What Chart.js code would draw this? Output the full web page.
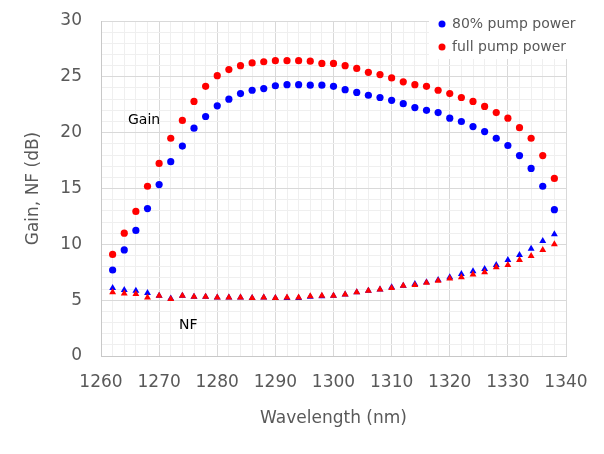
<!DOCTYPE html>
<html>
<head>
<meta charset="utf-8">
<script src="https://cdn.jsdelivr.net/npm/chart.js@4"></script>
<style>
  body { margin: 0; background: #fff; }
</style>
</head>
<body>
<canvas id="gainChart" width="604" height="454"></canvas>
<script>
const wavelengths = [1262, 1264, 1266, 1268, 1270, 1272, 1274, 1276, 1278, 1280,
  1282, 1284, 1286, 1288, 1290, 1292, 1294, 1296, 1298, 1300,
  1302, 1304, 1306, 1308, 1310, 1312, 1314, 1316, 1318, 1320,
  1322, 1324, 1326, 1328, 1330, 1332, 1334, 1336, 1338];

const gain80 = [7.7, 9.5, 11.25, 13.2, 15.35, 17.4, 18.8, 20.4, 21.45, 22.4,
  23.0, 23.5, 23.8, 23.95, 24.2, 24.3, 24.3, 24.25, 24.25, 24.15,
  23.85, 23.6, 23.35, 23.15, 22.9, 22.6, 22.25, 22.0, 21.8, 21.3,
  21.0, 20.55, 20.1, 19.5, 18.85, 17.95, 16.8, 15.2, 13.1];

const gainFull = [9.1, 11.0, 12.95, 15.2, 17.25, 19.5, 21.1, 22.8, 24.15, 25.1,
  25.65, 26.0, 26.25, 26.35, 26.45, 26.45, 26.45, 26.4, 26.2, 26.2,
  26.0, 25.75, 25.4, 25.2, 24.9, 24.55, 24.3, 24.15, 23.8, 23.5,
  23.15, 22.8, 22.35, 21.8, 21.3, 20.45, 19.5, 17.95, 15.9];

const nf80 = [6.1, 5.9, 5.85, 5.65, 5.4, 5.15, 5.4, 5.3, 5.3, 5.25,
  5.25, 5.25, 5.2, 5.25, 5.2, 5.2, 5.2, 5.3, 5.35, 5.4,
  5.5, 5.7, 5.85, 5.95, 6.15, 6.3, 6.45, 6.6, 6.8, 7.05,
  7.35, 7.6, 7.8, 8.15, 8.6, 9.05, 9.6, 10.3, 10.9];

const nfFull = [5.7, 5.6, 5.55, 5.25, 5.4, 5.1, 5.4, 5.3, 5.3, 5.25,
  5.25, 5.25, 5.2, 5.25, 5.2, 5.25, 5.25, 5.35, 5.4, 5.4,
  5.5, 5.7, 5.85, 5.95, 6.1, 6.3, 6.35, 6.55, 6.75, 6.95,
  7.05, 7.3, 7.5, 7.95, 8.15, 8.6, 8.95, 9.5, 10.0];

const seriesNames = ["80% pump power", "full pump power"];
const xTicks = [1260, 1270, 1280, 1290, 1300, 1310, 1320, 1330, 1340];
const yTicks = [0, 5, 10, 15, 20, 25, 30];

const BLUE = "#0000ff";
const RED = "#ff0000";
const GRAY_TEXT = "#595959";
const FONT = "'DejaVu Sans', sans-serif";

function points(ys) {
  return wavelengths.map((x, i) => ({ x: x, y: ys[i] }));
}

// legend box and "Gain"/"NF" labels drawn on top of the plot
const overlayPlugin = {
  id: "overlay",
  afterDraw(chart) {
    const ctx = chart.ctx;
    ctx.save();
    ctx.fillStyle = "#fff";
    ctx.fillRect(429, 8, 175, 51);

    const colors = [BLUE, RED];
    ctx.font = "14px " + FONT;
    ctx.textBaseline = "middle";
    seriesNames.forEach((name, i) => {
      const y = 24 + i * 23;
      ctx.fillStyle = colors[i];
      ctx.beginPath();
      ctx.arc(442, y, 3.5, 0, Math.PI * 2);
      ctx.fill();
      ctx.fillStyle = GRAY_TEXT;
      ctx.fillText(name, 452, y);
    });

    ctx.fillStyle = "#000";
    ctx.fillText("Gain", 128, 120);
    ctx.fillText("NF", 179, 325);
    ctx.restore();
  },
};

const ctx = document.getElementById("gainChart").getContext("2d");

new Chart(ctx, {
  type: "scatter",
  data: {
    datasets: [
      {
        label: seriesNames[0],
        data: points(gain80),
        backgroundColor: BLUE,
        pointStyle: "circle",
        pointRadius: 3.6,
        borderWidth: 0,
      },
      {
        label: seriesNames[1],
        data: points(gainFull),
        backgroundColor: RED,
        pointStyle: "circle",
        pointRadius: 3.6,
        borderWidth: 0,
      },
      {
        label: "NF full",
        data: points(nfFull),
        backgroundColor: RED,
        pointStyle: "triangle",
        pointRadius: 4,
        borderWidth: 0,
      },
      {
        label: "NF 80%",
        data: points(nf80),
        backgroundColor: BLUE,
        pointStyle: "triangle",
        pointRadius: 4,
        borderWidth: 0,
      },
    ],
  },
  options: {
    responsive: false,
    animation: false,
    layout: {
      padding: { left: 0, right: 38, top: 21, bottom: 0 },
    },
    plugins: {
      legend: { display: false },
      tooltip: { enabled: false },
    },
    scales: {
      x: {
        type: "linear",
        min: 1260,
        max: 1340,
        afterFit: (scale) => {
          scale.height = 98;
          scale.paddingLeft = 0;
          scale.paddingRight = 0;
        },
        afterBuildTicks: (scale) => {
          const t = [];
          for (let v = 1260; v <= 1340; v += 2) t.push({ value: v });
          scale.ticks = t;
        },
        border: { color: "#c8c8c8" },
        grid: {
          drawTicks: false,
          color: (c) => (xTicks.includes(c.tick.value) ? "#d9d9d9" : "#efefef"),
        },
        ticks: {
          autoSkip: false,
          maxRotation: 0,
          padding: 16,
          color: GRAY_TEXT,
          font: { family: FONT, size: 17 },
          callback: (v) => (xTicks.includes(v) ? String(v) : ""),
        },
        title: {
          display: true,
          text: "Wavelength (nm)",
          color: GRAY_TEXT,
          font: { family: FONT, size: 17 },
          padding: { top: 0, bottom: 25 },
        },
      },
      y: {
        min: 0,
        max: 30,
        afterFit: (scale) => {
          scale.width = 101;
          scale.paddingTop = 0;
          scale.paddingBottom = 0;
        },
        afterBuildTicks: (scale) => {
          const t = [];
          for (let v = 0; v <= 30; v += 1) t.push({ value: v });
          scale.ticks = t;
        },
        border: { color: "#c8c8c8" },
        grid: {
          drawTicks: false,
          color: (c) => (yTicks.includes(c.tick.value) ? "#d9d9d9" : "#efefef"),
        },
        ticks: {
          autoSkip: false,
          padding: 19,
          color: GRAY_TEXT,
          font: { family: FONT, size: 17 },
          callback: (v) => (yTicks.includes(v) ? String(v) : ""),
        },
        title: {
          display: true,
          text: "Gain, NF (dB)",
          color: GRAY_TEXT,
          font: { family: FONT, size: 17 },
          padding: { top: 23, bottom: 0 },
        },
      },
    },
  },
  plugins: [overlayPlugin],
});
</script>
</body>
</html>
